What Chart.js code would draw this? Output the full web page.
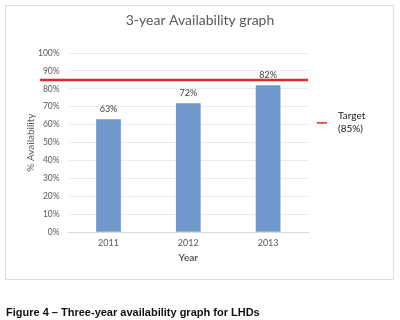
<!DOCTYPE html>
<html>
<head>
<meta charset="utf-8">
<script src="https://cdn.jsdelivr.net/npm/chart.js@4"></script>
<style>
  html, body { margin: 0; padding: 0; background: #fff; }
  #wrap { position: relative; width: 400px; height: 320px; }
  #frame { position: absolute; left: 5px; top: 5px; width: 387px; height: 273px; border: 1px solid #dedede; }
  #chartBox { position: absolute; left: 0; top: 0; width: 400px; height: 320px; }
  #caption { position: absolute; left: 6px; top: 306px; font: bold 11px "Liberation Sans", Arial, sans-serif; color: #111; white-space: nowrap; }
</style>
</head>
<body>
<div id="wrap">
  <div id="frame"></div>
  <div id="chartBox"><canvas id="availChart"></canvas></div>
  <div id="caption">Figure 4 – Three-year availability graph for LHDs</div>
</div>
<script>
const years = ['2011', '2012', '2013'];
const availability = [63, 72, 82];
const target = 85;
const targetLabel = ['Target', '(85%)'];
const yTicks = [0, 10, 20, 30, 40, 50, 60, 70, 80, 90, 100];
const chartTitle = '3-year Availability graph';
const xTitle = 'Year';
const yTitle = '% Availability';

const chartFont = 'Lato, "Open Sans", sans-serif';

// titles, red target line and its legend
const decorations = {
    id: 'decorations',
    afterDatasetsDraw(chart) {
        const c = chart.ctx;
        const area = chart.chartArea;
        c.save();
        c.fillStyle = '#595959';
        c.font = '14px ' + chartFont;
        c.textAlign = 'center';
        c.textBaseline = 'middle';
        c.fillText(chartTitle, chart.width / 2, 20);

        // axis titles
        c.font = 'bold 10px ' + chartFont;
        c.fillText(xTitle, (area.left + area.right) / 2, 258);
        c.save();
        c.translate(31, (area.top + area.bottom) / 2);
        c.rotate(-Math.PI / 2);
        c.font = '10px ' + chartFont;
        c.fillText(yTitle, 0, 0);
        c.restore();

        const y = chart.scales.y.getPixelForValue(target);
        c.strokeStyle = '#e3262b';
        c.lineWidth = 2.5;
        c.beginPath();
        c.moveTo(40, y);
        c.lineTo(area.right, y);
        c.stroke();

        // legend on the right
        const lx = area.right + 9;
        const ly = chart.scales.y.getPixelForValue(61);
        c.lineWidth = 1.5;
        c.beginPath();
        c.moveTo(lx, ly);
        c.lineTo(lx + 10, ly);
        c.stroke();
        c.fillStyle = '#1a1a1a';
        c.font = '10px ' + chartFont;
        c.textAlign = 'left';
        c.fillText(targetLabel[0], lx + 21, ly - 7);
        c.fillText(targetLabel[1], lx + 21, ly + 6);
        c.restore();
    }
};

// value labels above the bars
const barLabels = {
    id: 'barLabels',
    afterDatasetsDraw(chart) {
        const c = chart.ctx;
        const meta = chart.getDatasetMeta(0);
        c.save();
        c.fillStyle = '#404040';
        c.font = '9px ' + chartFont;
        c.textAlign = 'center';
        c.textBaseline = 'middle';
        meta.data.forEach((bar, i) => {
            c.fillText(availability[i] + '%', bar.x, bar.y - 10);
        });
        c.restore();
    }
};

const ctx = document.getElementById('availChart').getContext('2d');
const availChart = new Chart(ctx, {
    type: 'bar',
    data: {
        labels: years,
        datasets: [{
            label: 'Availability',
            data: availability,
            backgroundColor: '#7098cc',
            barPercentage: 0.31,
            categoryPercentage: 1
        }]
    },
    options: {
        responsive: true,
        maintainAspectRatio: false,
        animation: false,
        layout: {
            padding: { left: 29, right: 92, top: 53, bottom: 67 }
        },
        plugins: {
            legend: { display: false },
            tooltip: { enabled: false },
            title: { display: false }
        },
        scales: {
            x: {
                grid: { display: false, drawTicks: false },
                border: { color: '#d9d9d9' },
                ticks: { color: '#595959', font: { family: chartFont, size: 9 }, padding: 5 }
            },
            y: {
                min: 0,
                max: 100,
                afterBuildTicks(scale) {
                    scale.ticks = yTicks.map(v => ({ value: v }));
                },
                grid: { color: '#ececec', drawTicks: false },
                border: { display: false },
                ticks: {
                    color: '#595959',
                    font: { family: chartFont, size: 8.5 },
                    padding: 9,
                    callback: v => v + '%'
                }
            }
        }
    },
    plugins: [decorations, barLabels]
});
</script>
</body>
</html>
